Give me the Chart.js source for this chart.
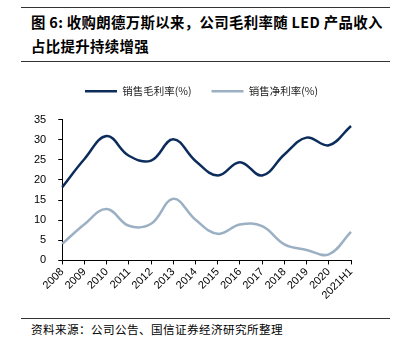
<!DOCTYPE html>
<html>
<head>
<meta charset="utf-8">
<script src="https://cdn.jsdelivr.net/npm/chart.js@4"></script>
<style>
  body { margin: 0; background: #fff; width: 400px; height: 352px; position: relative; overflow: hidden; }
  .rule { position: absolute; left: 21px; width: 369px; height: 0; border-top: 1px solid #333; }
  .title { position: absolute; left: 31px; font-family: "Noto Sans CJK SC", sans-serif; font-weight: bold; font-size: 14.4px; letter-spacing: 0.35px; color: #000; white-space: pre; }
  .src { position: absolute; left: 31px; top: 321px; font-family: "Noto Sans CJK SC", sans-serif; font-size: 11.6px; letter-spacing: 0.4px; color: #000; }
  #wrap { position: absolute; left: 0; top: 64px; width: 400px; height: 252px; }
</style>
</head>
<body>
<div class="rule" style="top:7px"></div>
<div class="title" style="top:11px">图 6: 收购朗德万斯以来，公司毛利率随 LED 产品收入</div>
<div class="title" style="top:35px">占比提升持续增强</div>
<div class="rule" style="top:61px"></div>
<div id="wrap"><canvas id="chart"></canvas></div>
<div class="rule" style="top:318px"></div>
<div class="src">资料来源：公司公告、国信证券经济研究所整理</div>
<script>
// Years on the x axis
const years = ["2008","2009","2010","2011","2012","2013","2014","2015","2016","2017","2018","2019","2020","2021H1"];
// Gross margin (%)
const grossMargin = [18.2, 25.2, 30.9, 26.0, 24.8, 30.1, 24.7, 21.1, 24.4, 21.1, 26.3, 30.5, 28.6, 33.4];
// Net margin (%)
const netMargin = [4.1, 9.0, 12.8, 8.6, 9.1, 15.3, 10.1, 6.6, 8.9, 8.5, 4.0, 2.6, 1.5, 7.1];

const cvs = document.getElementById('chart');

// legend: a bit more room under it, and nudged right of the plot centre
const legendTweak = {
    id: 'legendTweak',
    beforeInit(chart) {
        const lg = chart.legend;
        const fit = lg.fit;
        lg.fit = function () {
            fit.call(this);
            this.height += 13;
        };
    },
    afterLayout(chart) {
        chart.legend.left += 15;
        chart.legend.right += 15;
    }
};

new Chart(cvs, {
    type: 'line',
    data: {
        labels: years,
        datasets: [{
            label: '销售毛利率(%)',
            data: grossMargin,
            borderColor: '#0c2d5c',
            backgroundColor: '#0c2d5c',
            borderWidth: 2.5,
            pointRadius: 0,
            fill: false,
            tension: 0.4
        }, {
            label: '销售净利率(%)',
            data: netMargin,
            borderColor: '#9cb0c4',
            backgroundColor: '#9cb0c4',
            borderWidth: 2.5,
            pointRadius: 0,
            fill: false,
            tension: 0.4
        }]
    },
    plugins: [legendTweak],
    options: {
        maintainAspectRatio: false,
        animation: false,
        layout: { padding: { left: 22, right: 49, top: 2, bottom: 13 } },
        plugins: {
            tooltip: { enabled: false },
            legend: {
                position: 'top',
                labels: {
                    usePointStyle: true,
                    pointStyle: 'line',
                    pointStyleWidth: 32,
                    boxHeight: 2,
                    padding: 20,
                    color: '#222',
                    font: { family: '"Noto Sans CJK SC"', size: 10.5 }
                }
            }
        },
        scales: {
            x: {
                offset: false,
                grid: { display: true, drawOnChartArea: false, tickLength: 4, color: '#000' },
                border: { color: '#000', width: 1 },
                ticks: {
                    maxRotation: 45, minRotation: 45, autoSkip: false,
                    color: '#000', padding: 1,
                    font: { family: '"Liberation Sans", Arial', size: 11 }
                }
            },
            y: {
                min: 0, max: 35,
                ticks: {
                    stepSize: 5, color: '#000', padding: 12,
                    font: { family: '"Liberation Sans", Arial', size: 11 }
                },
                grid: { display: true, drawOnChartArea: false, tickLength: 4, color: '#000' },
                border: { color: '#000', width: 1 }
            }
        }
    }
});
</script>
</body>
</html>
